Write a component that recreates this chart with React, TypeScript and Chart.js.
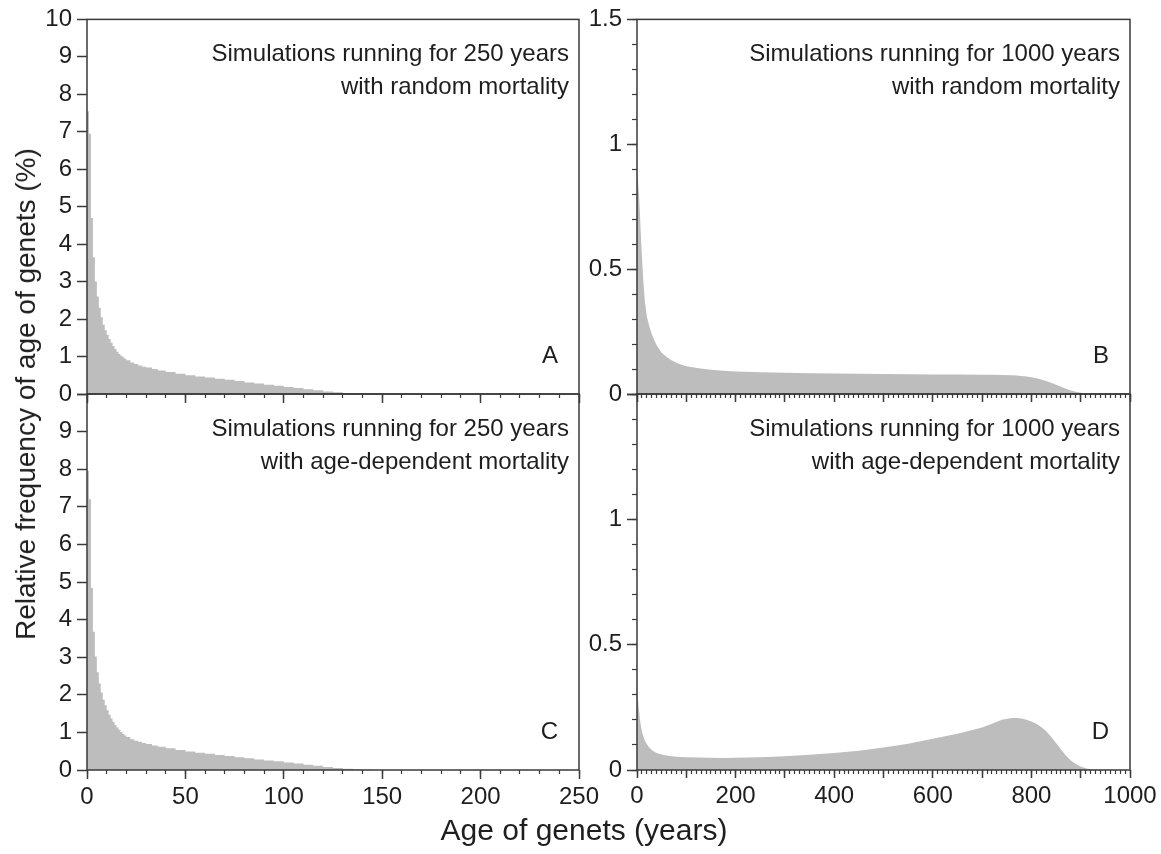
import React, { useEffect, useRef } from "react";
import { Chart, registerables } from "chart.js";

Chart.register(...registerables);

const FONT = "'Liberation Sans', Arial, Helvetica, sans-serif";
const INK = "#1e1e1e";
const FRAME = "#3a3a3a";
const FILL = "#bdbdbd";
const W = 1161;
const H = 854;

// ---- data: age bins (left edges, years) and relative frequency (%) ----
const agesShort = [0,1,2,3,4,5,6,7,8,9,10,11,12,13,14,15,16,17,18,19,20,22,24,26,28,30,33,36,40,45,50,55,60,65,70,75,80,85,90,95,100,105,110,115,120,125,130,135,140,145,150];
const freqA = [7.55,6.95,4.7,3.65,3.0,2.6,2.3,2.05,1.85,1.7,1.58,1.47,1.37,1.28,1.2,1.13,1.07,1.02,0.98,0.94,0.9,0.84,0.8,0.76,0.73,0.71,0.67,0.63,0.59,0.54,0.5,0.47,0.44,0.41,0.38,0.35,0.31,0.28,0.25,0.22,0.19,0.16,0.13,0.1,0.07,0.05,0.03,0.015,0.007,0.002,0];
const freqC = [7.95,7.2,4.85,3.68,3.02,2.6,2.3,2.06,1.87,1.72,1.59,1.47,1.37,1.28,1.2,1.13,1.07,1.01,0.96,0.92,0.88,0.82,0.78,0.75,0.72,0.69,0.65,0.62,0.58,0.53,0.49,0.46,0.43,0.4,0.37,0.34,0.31,0.28,0.25,0.23,0.2,0.17,0.14,0.11,0.08,0.05,0.03,0.015,0.006,0.002,0];

const agesLong = [0,1,2,4,6,8,10,12,14,16,18,20,25,30,35,40,50,60,70,80,90,100,125,150,175,200,250,300,350,400,450,500,550,600,650,700,720,740,760,770,780,790,800,810,820,830,840,850,860,870,880,890,900,910,920,930,940,1000];
const freqB = [0.93,0.92,0.87,0.8,0.72,0.63,0.55,0.48,0.42,0.37,0.34,0.31,0.27,0.24,0.215,0.195,0.165,0.148,0.135,0.125,0.117,0.111,0.103,0.097,0.093,0.09,0.087,0.085,0.083,0.082,0.081,0.08,0.079,0.078,0.078,0.077,0.077,0.076,0.075,0.074,0.072,0.07,0.067,0.063,0.058,0.052,0.045,0.037,0.029,0.021,0.014,0.009,0.005,0.0025,0.001,0.0005,0,0];
const freqD = [0.36,0.34,0.29,0.24,0.2,0.175,0.155,0.14,0.128,0.118,0.11,0.103,0.09,0.08,0.073,0.068,0.062,0.058,0.055,0.053,0.052,0.051,0.05,0.049,0.048,0.049,0.051,0.055,0.061,0.068,0.077,0.09,0.105,0.125,0.145,0.17,0.185,0.2,0.207,0.207,0.205,0.2,0.193,0.185,0.172,0.155,0.133,0.108,0.082,0.058,0.038,0.024,0.014,0.007,0.003,0.0015,0.001,0];

// ---- tick labels ----
const xLabelsShort = [0, 50, 100, 150, 200, 250];
const xLabelsLong = [0, 200, 400, 600, 800, 1000];
const yLabelsA = [0, 1, 2, 3, 4, 5, 6, 7, 8, 9, 10];
const yLabelsC = [0, 1, 2, 3, 4, 5, 6, 7, 8, 9];
const yLabelsB = [0, 0.5, 1, 1.5];
const yLabelsD = [0, 0.5, 1];

// ---- panel annotations ----
const textA = ["Simulations running for 250 years", "with random mortality"];
const textB = ["Simulations running for 1000 years", "with random mortality"];
const textC = ["Simulations running for 250 years", "with age-dependent mortality"];
const textD = ["Simulations running for 1000 years", "with age-dependent mortality"];

type Area = { left: number; top: number; right: number; bottom: number };
type Spec = {
  ages: number[];
  freqs: number[];
  stepped: boolean;
  area: Area;
  xMax: number;
  xMajorStep: number;
  xMinorStep: number;
  xLabels: number[] | null;
  xMajorLen: number;
  xAxisHeight: number;
  yMax: number;
  yMajorStep: number;
  yMinorStep: number | null;
  yLabels: number[];
  lines: string[];
  letter: string;
};

const has = (arr: number[] | null, v: number) =>
  !!arr && arr.some((a) => Math.abs(a - v) < 1e-9);
const fmt = (v: number) => String(Math.round(v * 10) / 10);

function textPlugin(lines: string[], letter: string) {
  return {
    id: "panelText",
    afterDatasetsDraw(chart: any) {
      const { ctx, chartArea: a } = chart;
      ctx.save();
      ctx.strokeStyle = FRAME;
      ctx.lineWidth = 1.5;
      ctx.strokeRect(a.left, a.top, a.right - a.left, a.bottom - a.top);
      ctx.fillStyle = INK;
      ctx.font = `24px ${FONT}`;
      ctx.textAlign = "right";
      ctx.textBaseline = "alphabetic";
      lines.forEach((t, i) => ctx.fillText(t, a.right - 10, a.top + 42 + i * 33));
      ctx.fillText(letter, a.right - 21, a.bottom - 31);
      ctx.restore();
    },
  };
}

function buildConfig(p: Spec): any {
  const yW = 80;
  const tickFont = { family: FONT, size: 24 };
  const scales: any = {
    x: {
      type: "linear",
      position: "bottom",
      min: 0,
      max: p.xMax,
      weight: 1,
      border: { display: false },
      grid: {
        drawOnChartArea: false,
        drawTicks: true,
        tickLength: p.xMajorLen,
        tickColor: FRAME,
        tickWidth: 1.5,
      },
      ticks: {
        stepSize: p.xMajorStep,
        display: !!p.xLabels,
        autoSkip: false,
        maxRotation: 0,
        padding: 4,
        color: INK,
        font: tickFont,
        callback: (v: number) => (has(p.xLabels, v) ? String(v) : ""),
      },
      afterFit: (s: any) => {
        s.height = p.xAxisHeight;
      },
    },
    xMinor: {
      type: "linear",
      position: "bottom",
      min: 0,
      max: p.xMax,
      weight: 0,
      border: { display: false },
      grid: {
        drawOnChartArea: false,
        drawTicks: true,
        tickLength: 4,
        tickColor: FRAME,
        tickWidth: 1.2,
      },
      ticks: { stepSize: p.xMinorStep, display: false },
      afterFit: (s: any) => {
        s.height = 0;
      },
    },
    y: {
      type: "linear",
      position: "left",
      min: 0,
      max: p.yMax,
      weight: 1,
      border: { display: false },
      grid: {
        drawOnChartArea: false,
        drawTicks: true,
        tickLength: 10,
        tickColor: FRAME,
        tickWidth: 1.5,
      },
      ticks: {
        stepSize: p.yMajorStep,
        autoSkip: false,
        padding: 5,
        color: INK,
        font: tickFont,
        callback: (v: number) => (has(p.yLabels, v) ? fmt(v) : ""),
      },
      afterFit: (s: any) => {
        s.width = yW;
      },
    },
  };
  if (p.yMinorStep) {
    scales.yMinor = {
      type: "linear",
      position: "left",
      min: 0,
      max: p.yMax,
      weight: 0,
      border: { display: false },
      grid: {
        drawOnChartArea: false,
        drawTicks: true,
        tickLength: 5,
        tickColor: FRAME,
        tickWidth: 1.2,
      },
      ticks: { stepSize: p.yMinorStep, display: false },
      afterFit: (s: any) => {
        s.width = 0;
      },
    };
  }
  return {
    type: "line",
    data: {
      datasets: [
        {
          data: p.ages.map((a, i) => ({ x: a, y: p.freqs[i] })),
          xAxisID: "x",
          yAxisID: "y",
          stepped: p.stepped,
          fill: "origin",
          backgroundColor: FILL,
          borderColor: "rgba(0,0,0,0)",
          borderWidth: 0,
          pointRadius: 0,
          tension: 0,
        },
      ],
    },
    options: {
      animation: false,
      responsive: false,
      maintainAspectRatio: false,
      events: [],
      layout: {
        padding: {
          left: p.area.left - yW,
          top: p.area.top,
          right: W - p.area.right,
          bottom: H - p.area.bottom - p.xAxisHeight,
        },
      },
      plugins: {
        legend: { display: false },
        tooltip: { enabled: false },
        title: { display: false },
      },
      scales,
    },
    plugins: [textPlugin(p.lines, p.letter)],
  };
}

const specs: Spec[] = [
  {
    ages: agesShort, freqs: freqA, stepped: true,
    area: { left: 87, top: 19, right: 579, bottom: 394 },
    xMax: 250, xMajorStep: 50, xMinorStep: 10, xLabels: null, xMajorLen: 9, xAxisHeight: 30,
    yMax: 10, yMajorStep: 1, yMinorStep: null, yLabels: yLabelsA,
    lines: textA, letter: "A",
  },
  {
    ages: agesLong, freqs: freqB, stepped: false,
    area: { left: 637, top: 19, right: 1130, bottom: 394 },
    xMax: 1000, xMajorStep: 100, xMinorStep: 10, xLabels: null, xMajorLen: 8, xAxisHeight: 30,
    yMax: 1.5, yMajorStep: 0.5, yMinorStep: 0.1, yLabels: yLabelsB,
    lines: textB, letter: "B",
  },
  {
    ages: agesShort, freqs: freqC, stepped: true,
    area: { left: 87, top: 394, right: 579, bottom: 770 },
    xMax: 250, xMajorStep: 50, xMinorStep: 10, xLabels: xLabelsShort, xMajorLen: 9, xAxisHeight: 60,
    yMax: 10, yMajorStep: 1, yMinorStep: null, yLabels: yLabelsC,
    lines: textC, letter: "C",
  },
  {
    ages: agesLong, freqs: freqD, stepped: false,
    area: { left: 637, top: 394, right: 1130, bottom: 770 },
    xMax: 1000, xMajorStep: 100, xMinorStep: 10, xLabels: xLabelsLong, xMajorLen: 8, xAxisHeight: 60,
    yMax: 1.5, yMajorStep: 0.5, yMinorStep: 0.1, yLabels: yLabelsD,
    lines: textD, letter: "D",
  },
];

function Panel({ spec }: { spec: Spec }) {
  const ref = useRef<HTMLCanvasElement>(null);
  useEffect(() => {
    const chart = new Chart(ref.current as HTMLCanvasElement, buildConfig(spec));
    return () => chart.destroy();
  }, [spec]);
  return (
    <canvas
      ref={ref}
      width={W}
      height={H}
      style={{ position: "absolute", left: 0, top: 0, width: W, height: H }}
    />
  );
}

export default function App() {
  return (
    <div
      style={{
        position: "absolute",
        left: 0,
        top: 0,
        width: W,
        height: H,
        background: "#ffffff",
        overflow: "hidden",
        fontFamily: FONT,
        color: INK,
      }}
    >
      {specs.map((s) => (
        <Panel key={s.letter} spec={s} />
      ))}
      <div
        style={{
          position: "absolute",
          left: 26,
          top: 394,
          transform: "translate(-50%, -50%) rotate(-90deg)",
          whiteSpace: "nowrap",
          fontSize: 28,
          lineHeight: 1,
        }}
      >
        Relative frequency of age of genets (%)
      </div>
      <div
        style={{
          position: "absolute",
          left: 584,
          top: 830,
          transform: "translate(-50%, -50%)",
          whiteSpace: "nowrap",
          fontSize: 30,
          lineHeight: 1,
        }}
      >
        Age of genets (years)
      </div>
    </div>
  );
}
